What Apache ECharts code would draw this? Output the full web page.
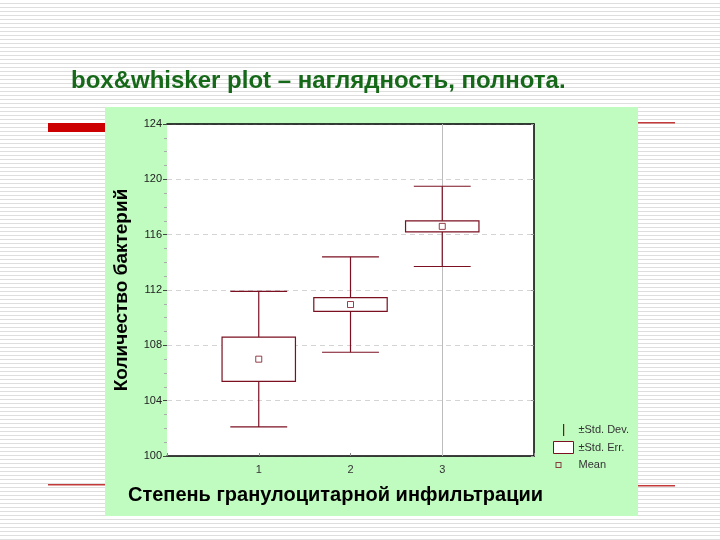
<!DOCTYPE html>
<html>
<head>
<meta charset="utf-8">
<script src="https://cdn.jsdelivr.net/npm/echarts@6/dist/echarts.min.js"></script>
<style>
  html, body {
    margin: 0;
    padding: 0;
    background: repeating-linear-gradient(to bottom, #ffffff 0px, #ffffff 3px, #dedede 3px, #dedede 4px);
  }
  #chart {
    width: 720px;
    height: 540px;
  }
</style>
</head>
<body>
<div id="chart"></div>
<script>
// group numbers on x axis
const categories = [1, 2, 3];
// mean of bacteria count per group
const means = [107.0, 110.95, 116.6];
// +- standard deviation (whiskers)
const stdDev = [4.9, 3.45, 2.9];
// +- standard error (boxes)
const stdErr = [1.6, 0.5, 0.4];
const yTicks = [100, 104, 108, 112, 116, 120, 124];

const lineColor = "#7a1020";
const font = "Arial, 'Liberation Sans', sans-serif";

const sdData = categories.map((c, i) => [c, means[i], stdDev[i]]);
const seData = categories.map((c, i) => [c, means[i], stdErr[i]]);
const meanData = categories.map((c, i) => [c, means[i]]);

function renderWhisker(params, api) {
  const x = api.value(0);
  const m = api.value(1);
  const s = api.value(2);
  const top = api.coord([x, m + s]);
  const bottom = api.coord([x, m - s]);
  const capL = api.coord([x - 0.31, m + s]);
  const capR = api.coord([x + 0.31, m + s]);
  const capL2 = api.coord([x - 0.31, m - s]);
  const capR2 = api.coord([x + 0.31, m - s]);
  const style = { stroke: lineColor, lineWidth: 1.2 };
  return {
    type: "group",
    children: [
      { type: "line", shape: { x1: top[0], y1: top[1], x2: bottom[0], y2: bottom[1] }, style },
      { type: "line", shape: { x1: capL[0], y1: capL[1], x2: capR[0], y2: capR[1] }, style },
      { type: "line", shape: { x1: capL2[0], y1: capL2[1], x2: capR2[0], y2: capR2[1] }, style },
    ],
  };
}

function renderBox(params, api) {
  const x = api.value(0);
  const m = api.value(1);
  const s = api.value(2);
  const p1 = api.coord([x - 0.4, m + s]);
  const p2 = api.coord([x + 0.4, m - s]);
  return {
    type: "rect",
    shape: { x: p1[0], y: p1[1], width: p2[0] - p1[0], height: p2[1] - p1[1] },
    style: { fill: "#fff", stroke: lineColor, lineWidth: 1.2 },
  };
}

// tiny points at the corners keep the icon box 20x12 so the mark keeps its size
const boxFrame = "M0,0L0.01,0L0,0.01Z M20,12L19.99,12L20,11.99Z ";
const sdIcon = "path://" + boxFrame + "M9.5,0L10.7,0L10.7,12L9.5,12Z";
const meanIcon = "path://" + boxFrame + "M2,3L8,3L8,9L2,9Z M3,4L3,8L7,8L7,4Z";

const chart = echarts.init(document.getElementById("chart"));
chart.setOption({
  backgroundColor: "transparent",
  animation: false,
  title: {
    text: "box&whisker plot – наглядность, полнота.",
    left: 66,
    top: 64,
    textStyle: { fontFamily: font, fontSize: 24, fontWeight: "bold", color: "#17691a" },
  },
  graphic: {
    elements: [
      { type: "rect", z: -10, shape: { x: 105, y: 107, width: 533, height: 409 }, style: { fill: "#c0fbc0" } },
      { type: "rect", z: -10, shape: { x: 48, y: 123, width: 57, height: 9 }, style: { fill: "#cc0000" } },
      { type: "rect", z: -10, shape: { x: 638, y: 122, width: 37, height: 1.5 }, style: { fill: "#c43a3a" } },
      { type: "rect", z: -10, shape: { x: 48, y: 484, width: 57, height: 1.5 }, style: { fill: "#c43a3a" } },
      { type: "rect", z: -10, shape: { x: 638, y: 485, width: 37, height: 1.5 }, style: { fill: "#c43a3a" } },
    ],
  },
  legend: {
    orient: "vertical",
    left: 553,
    top: 424,
    padding: 0,
    itemWidth: 20,
    itemHeight: 12,
    itemGap: 5,
    selectedMode: false,
    textStyle: { fontFamily: font, fontSize: 11, color: "#333" },
    data: [
      { name: "±Std. Dev.", icon: sdIcon, itemStyle: { color: lineColor, borderWidth: 0 } },
      { name: "±Std. Err.", icon: "rect", itemStyle: { color: "#fff", borderColor: lineColor, borderWidth: 1 } },
      { name: "Mean", icon: meanIcon, itemStyle: { color: lineColor, borderWidth: 0 } },
    ],
  },
  grid: {
    left: 167,
    right: 186,
    top: 124,
    bottom: 84,
    show: true,
    backgroundColor: "#fff",
    borderWidth: 0,
  },
  xAxis: [
    {
      type: "value",
      min: 0,
      max: 4,
      interval: 1,
      position: "bottom",
      name: "Степень гранулоцитарной инфильтрации",
      nameLocation: "middle",
      nameGap: 29,
      nameTextStyle: { fontFamily: font, fontSize: 20, fontWeight: "bold", color: "#000", padding: [0, 30, 0, 0] },
      axisLine: { show: true, lineStyle: { color: "#000", width: 1.5 } },
      axisTick: { show: true, inside: true, length: 3, lineStyle: { color: "#888" } },
      axisLabel: {
        fontFamily: font,
        fontSize: 11,
        color: "#333",
        margin: 8,
        formatter: (v) => (categories.includes(v) ? String(v) : ""),
      },
      splitLine: { show: false },
    },
    {
      type: "value",
      min: 0,
      max: 4,
      position: "top",
      axisLine: { show: true, onZero: false, lineStyle: { color: "#000", width: 1.5 } },
      axisTick: { show: false },
      axisLabel: { show: false },
      splitLine: { show: false },
    },
  ],
  yAxis: [
    {
      type: "value",
      min: 100,
      max: 124,
      interval: 4,
      name: "Количество бактерий",
      nameLocation: "middle",
      nameGap: 36,
      nameTextStyle: { fontFamily: font, fontSize: 19, fontWeight: "bold", color: "#000" },
      axisLine: { show: false },
      axisTick: { show: true, length: 4, lineStyle: { color: "#444" } },
      minorTick: { show: true, splitNumber: 4, length: 3, lineStyle: { color: "#aaa" } },
      axisLabel: {
        fontFamily: font,
        fontSize: 11,
        color: "#222",
        margin: 5,
        formatter: (v) => (yTicks.includes(v) ? String(v) : ""),
      },
      splitLine: { show: true, lineStyle: { color: "#d4d4d4", type: [5, 4] } },
    },
    {
      type: "value",
      min: 100,
      max: 124,
      interval: 4,
      position: "right",
      axisLine: { show: true, onZero: false, lineStyle: { color: "#000", width: 1.5 } },
      axisTick: { show: true, inside: true, length: 3, lineStyle: { color: "#999" } },
      axisLabel: { show: false },
      splitLine: { show: false },
    },
  ],
  series: [
    {
      name: "±Std. Dev.",
      type: "custom",
      xAxisIndex: 0,
      yAxisIndex: 0,
      renderItem: renderWhisker,
      data: sdData,
      z: 2,
    },
    {
      name: "±Std. Err.",
      type: "custom",
      xAxisIndex: 0,
      yAxisIndex: 0,
      renderItem: renderBox,
      data: seData,
      z: 3,
    },
    {
      name: "Mean",
      type: "scatter",
      xAxisIndex: 0,
      yAxisIndex: 0,
      symbol: "rect",
      symbolSize: 6,
      itemStyle: { color: "#fff", borderColor: lineColor, borderWidth: 1 },
      data: meanData,
      z: 4,
      markLine: {
        silent: true,
        symbol: "none",
        label: { show: false },
        lineStyle: { color: "#bdbdbd", type: "solid", width: 1 },
        data: [{ xAxis: 3 }],
        z: 1,
      },
    },
  ],
});
</script>
</body>
</html>
